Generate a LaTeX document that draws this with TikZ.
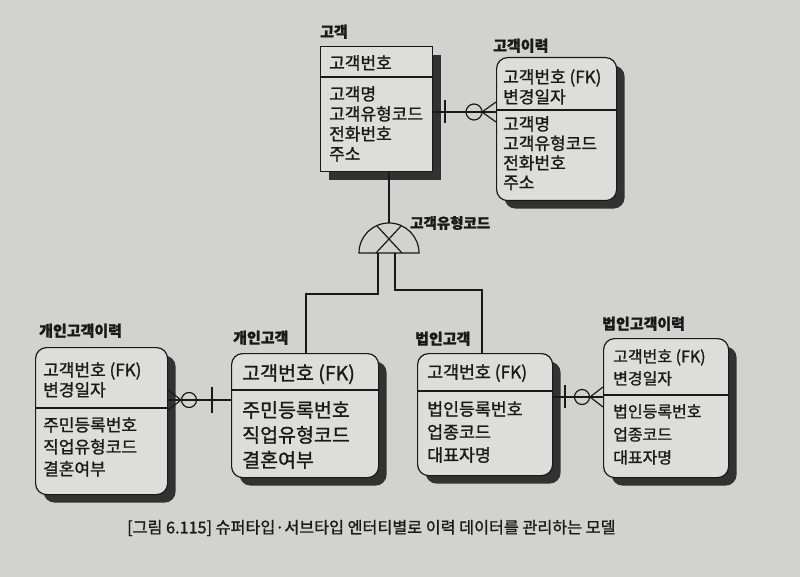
\documentclass[tikz,border=0pt]{standalone}
\usepackage{fontspec}
\setmainfont{Noto Sans CJK KR}[FakeBold=1.2]
\usetikzlibrary{shadows,calc}
\definecolor{paper}{RGB}{210,210,207}
\definecolor{boxfill}{RGB}{221,221,218}
\definecolor{ink}{RGB}{25,25,25}
\definecolor{shade}{RGB}{50,50,50}
\tikzset{
  ent/.style={draw=ink, line width=1.2pt, fill=boxfill, anchor=north west, inner sep=0pt,
    drop shadow={shadow xshift=8pt, shadow yshift=-8pt, fill=shade, opacity=1}},
  dep/.style={ent, rounded corners=11pt},
  attr/.style={anchor=north west, align=left, inner sep=0pt, text=ink, font=\fontsize{17}{20}\selectfont},
  title/.style={anchor=south west, inner sep=0pt, text=ink, font=\bfseries\fontsize{15}{18}\selectfont},
  rel/.style={draw=ink, line width=1.2pt},
  sep/.style={draw=ink, line width=1.1pt},
}
\begin{document}
\begin{tikzpicture}[x=1pt,y=-1pt]
\useasboundingbox[fill=paper] (0,0) rectangle (800,577);

% ---- 고객
\node[title] (t-kk) at (320,39) {고객};
\node[ent, minimum width=112pt, minimum height=125pt] (kk) at (320,46) {};
\draw[sep] (kk.west |- 0,77) -- (kk.east |- 0,77);
\node[attr] (a-kk1) at (329,55) {고객번호};
\node[attr] (a-kk2) at (329,86) {고객명\\고객유형코드\\전화번호\\주소};

% ---- 고객이력
\node[title] (t-kh) at (493,53) {고객이력};
\node[dep, minimum width=120pt, minimum height=143pt] (kh) at (496,57) {};
\draw[sep] (kh.west |- 0,110) -- (kh.east |- 0,110);
\node[attr] (a-kh1) at (503,69) {고객번호 (FK)\\변경일자};
\node[attr, font=\fontsize{17}{19.5}\selectfont] (a-kh2) at (503,116) {고객명\\고객유형코드\\전화번호\\주소};

% ---- 개인고객이력
\node[title] (t-ph) at (39,338) {개인고객이력};
\node[dep, minimum width=132pt, minimum height=147pt] (ph) at (35,347) {};
\draw[sep] (ph.west |- 0,408) -- (ph.east |- 0,408);
\node[attr, font=\fontsize{17}{20}\selectfont] (a-ph1) at (43,362) {고객번호 (FK)\\변경일자};
\node[attr, font=\fontsize{17}{22}\selectfont] (a-ph2) at (43,417) {주민등록번호\\직업유형코드\\결혼여부};

% ---- 개인고객
\node[title] (t-pk) at (233,345) {개인고객};
\node[dep, minimum width=147pt, minimum height=124pt] (pk) at (231,353) {};
\draw[sep] (pk.west |- 0,390) -- (pk.east |- 0,390);
\node[attr, font=\fontsize{19.5}{24}\selectfont] (a-pk1) at (242,364) {고객번호 (FK)};
\node[attr, font=\fontsize{19.5}{25}\selectfont] (a-pk2) at (242,401) {주민등록번호\\직업유형코드\\결혼여부};

% ---- 법인고객
\node[title] (t-bk) at (415,346) {법인고객};
\node[dep, minimum width=135pt, minimum height=122pt] (bk) at (417,353) {};
\draw[sep] (bk.west |- 0,391) -- (bk.east |- 0,391);
\node[attr, font=\fontsize{17.3}{23}\selectfont] (a-bk1) at (427,364) {고객번호 (FK)};
\node[attr, font=\fontsize{17.3}{23}\selectfont] (a-bk2) at (427,401) {법인등록번호\\업종코드\\대표자명};

% ---- 법인고객이력
\node[title] (t-bh) at (602,331) {법인고객이력};
\node[dep, minimum width=125pt, minimum height=139pt] (bh) at (603,338) {};
\draw[sep] (bh.west |- 0,395) -- (bh.east |- 0,395);
\node[attr, font=\fontsize{16}{22}\selectfont] (a-bh1) at (613,349) {고객번호 (FK)\\변경일자};
\node[attr, font=\fontsize{16}{23}\selectfont] (a-bh2) at (613,404) {법인등록번호\\업종코드\\대표자명};

% ---- relationship 고객 -> 고객이력
\draw[rel] (kk.east |- 0,112) -- (kh.west |- 0,112);
\draw[rel] (445,100) -- (445,123);
\draw[rel] (474,112) circle[radius=8];
\draw[rel] (482,112) -- (kh.west |- 0,102) (482,112) -- (kh.west |- 0,122);

% ---- subtype symbol
\coordinate (apex) at (389,223);
\coordinate (subL) at (378,253);
\coordinate (subR) at (395,253);
\draw[rel] (kk.south -| apex) -- (apex);
\draw[rel] (359,253) arc[start angle=180, end angle=360, radius=30] -- cycle;
\draw[rel] (377,226) -- (402,253) (401,226) -- (376,253);
\node[anchor=west, inner sep=0pt, text=ink, font=\bfseries\fontsize{14.5}{16}\selectfont] (t-sub) at (410,223) {고객유형코드};
\coordinate (lx) at (306,294);
\coordinate (rx) at (482,290);
\draw[rel] (subL) |- (lx) -- (pk.north -| lx);
\draw[rel] (subR) |- (rx) -- (bk.north -| rx);

% ---- relationship 개인고객 -> 개인고객이력
\draw[rel] (ph.east |- 0,400) -- (pk.west |- 0,400);
\draw[rel] (212,387) -- (212,413);
\draw[rel] (189,400) circle[radius=7.5];
\draw[rel] (181,400) -- (ph.east |- 0,390) (181,400) -- (ph.east |- 0,410);

% ---- relationship 법인고객 -> 법인고객이력
\draw[rel] (bk.east |- 0,397) -- (bh.west |- 0,397);
\draw[rel] (565,385) -- (565,408);
\draw[rel] (582,397) circle[radius=7.5];
\draw[rel] (590,397) -- (bh.west |- 0,387) (590,397) -- (bh.west |- 0,407);

% ---- caption
\node[anchor=west, inner sep=0pt, text=ink, font=\fontsize{16.2}{18}\selectfont] (cap) at (127,528)
  {[그림 6.115] 슈퍼타입·서브타입 엔터티별로 이력 데이터를 관리하는 모델};
\end{tikzpicture}
\end{document}
